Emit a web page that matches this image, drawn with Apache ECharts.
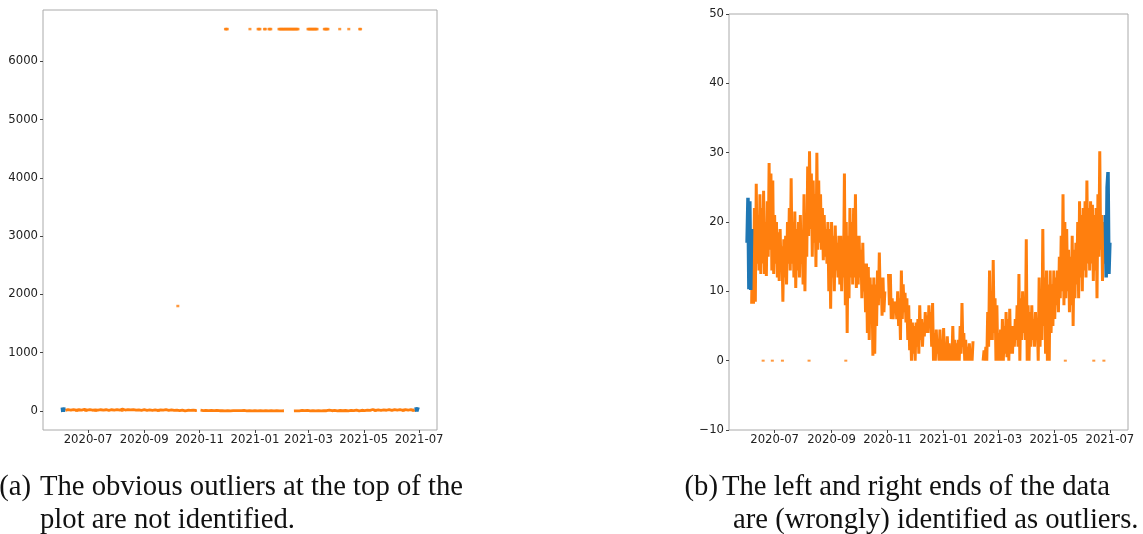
<!DOCTYPE html>
<html><head><meta charset="utf-8">
<script src="https://cdn.jsdelivr.net/npm/echarts@6/dist/echarts.min.js"></script>
<style>html,body{margin:0;padding:0;background:#fff;overflow:hidden}#c{width:1143px;height:534px}</style>
</head><body><div id="c"></div>
<script>
// ---- data (daily readings, day 0 = 2020-06-01) ----
const seriesStart = '2020-06-01';
const blueStartDay = 0;
const blueStartValues = [17, 23.5, 10.3, 23, 10.2, 19];
const orangeStartDay = 5;
const orangeValues = [
  8.2, 19, 8.2, 22, 8.5, 25.5, 14, 21, 13, 24,
  12.5, 22, 14, 24.5, 12.5, 20, 12.2, 23, 15, 28.5,
  16, 27, 13, 26, 12.5, 21, 14, 20, 12, 18.5,
  11.5, 19, 13, 16.5, 8.5, 17.5, 12, 18, 11, 20,
  14, 22, 13, 26.3, 14, 20, 12, 21.5, 10.5, 19,
  13, 20, 12, 21, 14, 18, 11, 24, 10, 21,
  15, 28, 18, 30.2, 19, 27, 15, 26, 17, 24,
  13.5, 30, 16, 26, 17, 24, 16, 22, 14.5, 21,
  15, 19, 14, 20, 10, 19, 7.5, 20, 12, 18,
  10, 19.5, 13, 17, 12, 18, 11, 18, 10, 17,
  12, 27, 8, 20, 4, 18, 9, 22, 12, 20,
  11, 22, 12, 24, 10.5, 18, 11, 18, 12, 16,
  9, 17, 10, 14, 7, 14, 4, 13.5, 3, 12,
  6, 11, 0.7, 12, 1, 11, 5, 13, 8, 15.6,
  9, 12, 6.5, 12, 7, 10, null, null, null, 12.5,
  8, 12.5, 6, 9, 6, 8.5, 7, 8.5, 6, 10,
  5, 9, 3, 13, 6, 11, 7, 9.8, 5.5, 9,
  3, 8, 1.5, 6, 0, 5.5, 1, 5, 0, 5.5,
  2, 6, 1, 8, 3, 6, 2, 5.5, 3.5, 7,
  4, 6.5, 4, 8, 5, 7, 2, 8.3, 0, 4,
  0, 4.5, 1, 3, 0, 4.5, 0, 3, 0, 4.7,
  0, 2, 0, 3.5, 0, 2.5, 0, 1.5, 0, 5,
  0, 3, 0, 2.5, 0, 3, 0, 5, 1, 8.3,
  2, 4, 0, 3, 0, 2, 0, 2.5, 0, 1.5,
  0, 2.8, null, null, null, null, null, null, null, null,
  null, null, 0, 1.5, 0, 2, 0, 7, 2, 13,
  3, 10, 3, 14.5, 4, 9, 0, 8, 0, 4,
  0, 4.5, 0, 6, 0, 5, 1, 7, 0.5, 6,
  0, 7.5, 1, 5, 1, 5, 2, 6, 3, 8,
  2, 12.5, 0, 9, 3, 10, 4, 8, 3, 17.5,
  0, 8, 0, 7, 2, 8, 3, 6, 2, 7,
  3, 6, 0, 12, 2, 9, 3, 19, 5, 12,
  1, 13, 0, 11, 0, 13, 4, 11, 5, 13,
  6, 12, 8, 13, 7, 15, 9, 18, 10, 24,
  8, 20, 9, 19, 10, 16, 7, 15, 8, 18,
  5, 16, 9, 17, 11, 20, 9, 23, 12, 21,
  10, 22, 13, 23, 12, 26, 14, 22, 13, 23,
  14, 22.5, 11.5, 21, 13, 22, 9, 24, 15, 30.2,
  16, 21, 11.5, 20, 14, 21
];
const blueEndDay = 390;
const blueEndValues = [21, 12, 25, 27.2, 12.5, 17];
const zeroDotDates = ['2020-06-18','2020-06-28','2020-07-09','2020-08-07','2020-09-16','2021-05-13','2021-06-13','2021-06-24'];
const outlierValue = 6553.5;
const outlierDates = [
  '2020-11-29','2020-11-30','2020-12-01','2020-12-26',
  '2021-01-04','2021-01-05','2021-01-06','2021-01-11','2021-01-12',
  '2021-01-16','2021-01-17','2021-01-18',
  '2021-01-27','2021-01-28','2021-01-29','2021-01-30','2021-01-31','2021-02-01','2021-02-02',
  '2021-02-03','2021-02-04','2021-02-05','2021-02-06','2021-02-07','2021-02-08','2021-02-09',
  '2021-02-10','2021-02-11','2021-02-12','2021-02-13','2021-02-14','2021-02-15','2021-02-16','2021-02-17',
  '2021-02-28','2021-03-01','2021-03-02','2021-03-03','2021-03-04','2021-03-05','2021-03-06',
  '2021-03-07','2021-03-08','2021-03-09','2021-03-10',
  '2021-03-18','2021-03-19','2021-03-20','2021-03-21','2021-03-22',
  '2021-04-04','2021-04-14','2021-04-26','2021-04-27'
];
const midOutlierDate = '2020-10-08';
const midOutlierValue = 1800;
const xTickLabels = ['2020-07','2020-09','2020-11','2021-01','2021-03','2021-05','2021-07'];
const leftYTicks = [0, 1000, 2000, 3000, 4000, 5000, 6000];
const rightYTicks = [-10, 0, 10, 20, 30, 40, 50];
const captionA = ['(a)', 'The obvious outliers at the top of the', 'plot are not identified.'];
const captionB = ['(b)', 'The left and right ends of the data', 'are (wrongly) identified as outliers.'];

// ---- helpers ----
const DAY = 86400000;
function utc(s){ const p = s.split('-').map(Number); return Date.UTC(p[0], p[1]-1, p[2] || 1); }
function daily(startDay, values){ const t0 = utc(seriesStart) + startDay*DAY; return values.map((v,i)=>[t0 + i*DAY, v]); }
const orangeData = daily(orangeStartDay, orangeValues);
const blueStartData = daily(blueStartDay, blueStartValues);
const blueEndData = daily(blueEndDay, blueEndValues);
const zeroData = zeroDotDates.map(d => [utc(d) + DAY/2, 0]);
const outlierData = outlierDates.map(d => [utc(d) + DAY/2, outlierValue]);
const midData = [[utc(midOutlierDate), midOutlierValue]];
const xTicks = xTickLabels.map(l => utc(l + '-01'));
const xMin = Date.UTC(2020, 4, 12, 8), xMax = Date.UTC(2021, 6, 20, 18);

const ORANGE = '#ff7f0e', BLUE = '#1f77b4';
const labelFont = { fontFamily: 'DejaVu Sans', fontSize: 11.7, color: '#222' };
function fmtDate(v){ const d = new Date(v); return d.getUTCFullYear() + '-' + String(d.getUTCMonth()+1).padStart(2,'0'); }
function fmtNum(v){ return v < 0 ? '\u2212' + Math.abs(v) : String(v); }

function xAxisCfg(gi){
  return { type: 'value', gridIndex: gi, min: xMin, max: xMax, splitLine: {show:false},
    axisLine: {show:false, onZero:false},
    axisTick: {show:true, length: 3, lineStyle:{color:'#444'}, customValues: xTicks},
    axisLabel: Object.assign({margin: 4, formatter: fmtDate, customValues: xTicks}, labelFont) };
}
function yAxisCfg(gi, min, max, ticks){
  return { type: 'value', gridIndex: gi, min: min, max: max, splitLine: {show:false},
    axisLine: {show:false, onZero:false},
    axisTick: {show:true, length: 3, lineStyle:{color:'#444'}, customValues: ticks},
    axisLabel: Object.assign({margin: 5, formatter: fmtNum, customValues: ticks}, labelFont) };
}
function lineS(gi, data, color, w, z){
  return { type:'line', xAxisIndex: gi, yAxisIndex: gi, data: data, showSymbol:false, symbol:'none',
    connectNulls:false, z: z, lineStyle:{color: color, width: w}, itemStyle:{color: color} };
}
function dotS(gi, data, size, z){
  return { type:'scatter', xAxisIndex: gi, yAxisIndex: gi, data: data, symbol:'rect', symbolSize: size,
    z: z, itemStyle:{color: ORANGE} };
}

const capFont = '28.7px "Liberation Serif"';
function cap(text, x, y, align){
  return { type:'text', x: x, y: y, silent:true,
    style:{ text: text, font: capFont, fill:'#111', align: align || 'left', verticalAlign:'middle' } };
}

const chart = echarts.init(document.getElementById('c'), null, {renderer:'canvas'});
chart.setOption({
  animation: false,
  backgroundColor: '#fff',
  grid: [
    { left: 43, top: 10, width: 394, height: 420, show: true, borderColor: '#aaa', borderWidth: 1, backgroundColor: 'transparent' },
    { left: 729, top: 14, width: 399, height: 416, show: true, borderColor: '#aaa', borderWidth: 1, backgroundColor: 'transparent' }
  ],
  xAxis: [ xAxisCfg(0), xAxisCfg(1) ],
  yAxis: [ yAxisCfg(0, -327.7, 6881.2, leftYTicks), yAxisCfg(1, -10, 50, rightYTicks) ],
  series: [
    lineS(0, orangeData, ORANGE, 2.8, 2),
    lineS(0, blueStartData, BLUE, 4.5, 3),
    lineS(0, blueEndData, BLUE, 4.5, 3),
    dotS(0, outlierData, [3, 2.5], 4),
    dotS(0, midData, [3, 2.5], 4),
    dotS(0, zeroData, [3, 2], 4),
    lineS(1, orangeData, ORANGE, 3, 2),
    lineS(1, blueStartData, BLUE, 3.5, 3),
    lineS(1, blueEndData, BLUE, 3.5, 3),
    dotS(1, zeroData, [3, 2], 4)
  ],
  graphic: [
    cap(captionA[0], 31, 487, 'right'),
    cap(captionA[1], 40, 487),
    cap(captionA[2], 40, 520),
    cap(captionB[0], 718, 487, 'right'),
    cap(captionB[1], 722, 487),
    cap(captionB[2], 733, 520)
  ]
});
</script>
</body></html>
